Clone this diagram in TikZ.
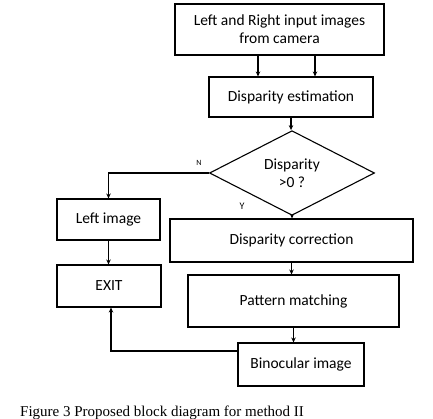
\documentclass[tikz,border=0pt]{standalone}
\usepackage{fontspec}
\setmainfont{Carlito}
\newfontfamily\capfont{Liberation Serif}
\usetikzlibrary{shapes.geometric,arrows.meta}
\begin{document}
\begin{tikzpicture}[x=1pt,y=-1pt,
  blk/.style={draw,line width=1.1pt,inner sep=0pt,align=center,font=\fontsize{15.5}{18}\selectfont},
  arr/.style={line width=1.1pt,-{Stealth[length=5pt,width=4.5pt]}},
  ln/.style={line width=1.1pt}]
\useasboundingbox (0,0) rectangle (433,419);
\node[blk,minimum width=209pt,minimum height=51pt] (top) at (279.5,29.5) {Left and Right input images\\from camera};
\node[blk,minimum width=164pt,minimum height=40pt] (est) at (291,97) {Disparity estimation};
\node[blk,diamond,minimum width=165pt,minimum height=71pt,inner sep=0pt] (dia) at (292,173) {Disparity\\>0 ?};
\node[blk,minimum width=103pt,minimum height=41pt] (left) at (108.5,219.5) {Left image};
\node[blk,minimum width=243pt,minimum height=43pt] (corr) at (291.5,240.5) {Disparity correction};
\node[blk,minimum width=104pt,minimum height=42pt] (exit) at (109,286) {EXIT};
\node[blk,minimum width=211pt,minimum height=52pt] (pat) at (293.5,301) {Pattern matching};
\node[blk,minimum width=126pt,minimum height=43pt] (bino) at (301,364.5) {Binocular image};
\node[font=\fontsize{8}{9}\selectfont] (nlab) at (199,163) {N};
\node[font=\fontsize{10}{11}\selectfont] (ylab) at (242,206) {Y};
\node[anchor=base west,font=\capfont\fontsize{15}{17}\selectfont,inner sep=0pt] (cap) at (20,416.5) {Figure 3 Proposed block diagram for method II};
\draw[arr] ([xshift=-21.5pt]top.south) -- ([xshift=-21.5pt]top.south |- est.north);
\draw[arr] ([xshift=35.5pt]top.south) -- ([xshift=35.5pt]top.south |- est.north);
\draw[arr] (est.south) -- (est.south |- dia.north);
\draw[arr] (dia.west) -| (left.north);
\draw[arr] (dia.south) -- (dia.south |- corr.north);
\draw[arr] (left.south) -- (left.south |- exit.north);
\draw[arr] (corr.south) -- (corr.south |- pat.north);
\draw[arr] (pat.south) -- (pat.south |- bino.north);
\draw[arr] ([yshift=13.5pt]bino.west) -| ([xshift=2pt]exit.south);
\end{tikzpicture}
\end{document}
